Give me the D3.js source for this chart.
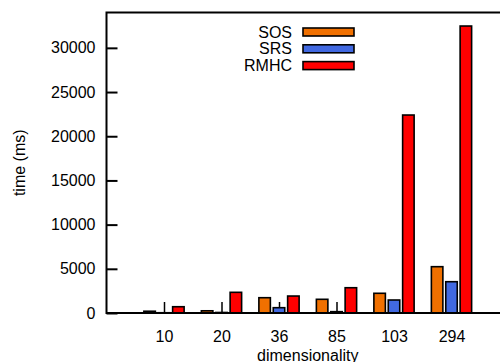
<!DOCTYPE html>
<html>
<head>
<meta charset="utf-8">
<script src="https://cdn.jsdelivr.net/npm/d3@7"></script>
<style>
  body { margin: 0; background: #fff; }
  svg { display: block; }
  text { font-family: "Liberation Sans", Arial, Helvetica, sans-serif; fill: #000; }
</style>
</head>
<body>
<svg id="chart" width="500" height="362"></svg>
<script>
// Run time per method for each problem dimensionality
const dims = ["10", "20", "36", "85", "103", "294"];
const seriesNames = ["SOS", "SRS", "RMHC"];
const seriesColors = ["#f07000", "#4169e1", "#ff0000"];
const sosTimes  = [200, 250, 1730, 1550, 2230, 5240];
const srsTimes  = [30, 60, 600, 150, 1470, 3540];
const rmhcTimes = [710, 2340, 1920, 2860, 22400, 32470];
const yTickValues = [0, 5000, 10000, 15000, 20000, 25000, 30000];

const seriesValues = [sosTimes, srsTimes, rmhcTimes];

const svg = d3.select("#chart");
const plotLeft = 106.5, plotRight = 509, plotTop = 12.5, plotBottom = 313;

// clusters sit at integer positions, with one empty slot on each side
const x = d3.scaleLinear().domain([-1, 6]).range([plotLeft, plotRight]);
const y = d3.scaleLinear().domain([0, 34000]).range([plotBottom, plotTop]);
const slot = 0.25;          // each bar's share of a cluster
const barW = 0.8 * slot;    // drawn width inside its slot

// y ticks point into the plot
const yAxis = d3.axisLeft(y).tickValues(yTickValues).tickSize(-11).tickPadding(11)
  .tickFormat(d3.format("d"));
const gy = svg.append("g").attr("transform", `translate(${plotLeft},0)`).call(yAxis);
gy.select(".domain").remove();
gy.selectAll(".tick line").attr("stroke", "#000").attr("stroke-width", 2);
gy.selectAll(".tick text").attr("font-size", 16).attr("font-family", null);

// x ticks at the cluster centres, also pointing inward
const xAxis = d3.axisBottom(x).tickValues(d3.range(dims.length))
  .tickFormat(i => dims[i]).tickSize(-11).tickPadding(18);
const gx = svg.append("g").attr("transform", `translate(0,${plotBottom})`).call(xAxis);
gx.select(".domain").remove();
gx.selectAll(".tick line").attr("stroke", "#000").attr("stroke-width", 1.5);
gx.selectAll(".tick text").attr("font-size", 16).attr("font-family", null);

// bars
seriesValues.forEach((vals, s) => {
  svg.append("g").selectAll("rect").data(vals).join("rect")
    .attr("x", (d, i) => x(i + (s - 1) * slot - barW / 2))
    .attr("width", (d, i) => x(i + barW / 2) - x(i - barW / 2))
    .attr("y", d => y(d))
    .attr("height", d => y(0) - y(d))
    .attr("fill", seriesColors[s])
    .attr("stroke", "#000")
    .attr("stroke-width", 1.6);
});

// frame: left axis, bottom axis, top border
const frame = svg.append("g").attr("stroke", "#000").attr("stroke-width", 2).attr("fill", "none");
frame.append("path").attr("d", `M${plotRight},${plotTop}H${plotLeft}V${plotBottom}H${plotRight}`);

// legend
const legend = svg.append("g");
seriesNames.forEach((name, s) => {
  const cy = 32 + s * 16.8;
  legend.append("text").attr("x", 292).attr("y", cy + 5.5)
    .attr("text-anchor", "end").attr("font-size", 16).text(name);
  legend.append("rect").attr("x", 303).attr("y", cy - 4).attr("width", 51).attr("height", 8)
    .attr("fill", seriesColors[s]).attr("stroke", "#000").attr("stroke-width", 1.6);
});

// axis titles
svg.append("text").attr("x", (plotLeft + plotRight) / 2).attr("y", 360.5)
  .attr("text-anchor", "middle").attr("font-size", 16).text("dimensionality");
svg.append("text").attr("transform", `translate(25,${(plotTop + plotBottom) / 2}) rotate(-90)`)
  .attr("text-anchor", "middle").attr("font-size", 16).text("time (ms)");
</script>
</body>
</html>
